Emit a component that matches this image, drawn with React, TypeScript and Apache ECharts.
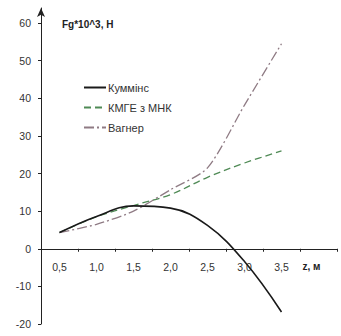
import React, { useEffect, useRef } from "react";
import * as echarts from "echarts";

const categories = ["0,5", "1,0", "1,5", "2,0", "2,5", "3,0", "3,5", "z, м"];
const kummins = [4.3, 8.6, 11.4, 10.8, 6.2, -3.4, -16.8, null];
const kmge = [4.3, 8.5, 11.5, 14.4, 19.0, 22.8, 26.0, null];
const wagner = [4.3, 6.5, 10.0, 15.7, 21.5, 38.2, 54.5, null];
const seriesNames = ["Куммінс", "КМГЕ з МНК", "Вагнер"];
const yTitle = "Fg*10^3, Н";

const Y_MIN = -20;
const Y_MAX = 64;
const GRID_TOP = 8;
const GRID_BOTTOM = 12;
const CH_H = 336;

export default function App() {
  const ref = useRef<HTMLDivElement>(null);
  useEffect(() => {
    const chart = echarts.init(ref.current!, undefined, { renderer: "svg" });
    const font = "Liberation Sans, Arial, sans-serif";
    const plotH = CH_H - GRID_TOP - GRID_BOTTOM;
    const zeroOffset = -(plotH * (0 - Y_MIN)) / (Y_MAX - Y_MIN);
    chart.setOption({
      animation: false,
      backgroundColor: "#ffffff",
      textStyle: { fontFamily: font },
      graphic: [
        {
          type: "text",
          left: 62,
          top: 19,
          style: { text: yTitle, font: `bold 10px ${font}`, fill: "#222" },
        },
      ],
      legend: {
        orient: "vertical",
        left: 78,
        top: 77,
        itemWidth: 22,
        itemHeight: 10,
        itemGap: 9,
        itemStyle: { opacity: 0 },
        textStyle: { fontSize: 11, color: "#333", fontFamily: font, padding: [0, 0, 0, -3] },
        data: seriesNames,
      },
      grid: {
        left: 41,
        right: 4,
        top: GRID_TOP,
        bottom: GRID_BOTTOM,
        containLabel: false,
        outerBoundsMode: "none",
      },
      xAxis: {
        type: "category",
        data: categories,
        boundaryGap: true,
        position: "bottom",
        offset: zeroOffset,
        axisLine: { onZero: false, lineStyle: { color: "#222", width: 1 } },
        axisTick: { show: true, alignWithLabel: false, interval: 0, length: 3, lineStyle: { color: "#222" } },
        axisLabel: {
          interval: 0,
          margin: 13,
          fontSize: 10.5,
          color: "#333",
          fontFamily: font,
          formatter: (v: string) => (v === "z, м" ? `{b|${v}}` : v),
          rich: {
            b: { fontWeight: "bold", fontSize: 10, color: "#222", padding: [0, 14, 0, 0], fontFamily: font },
          },
        },
        splitLine: { show: false },
      },
      yAxis: {
        type: "value",
        min: Y_MIN,
        max: Y_MAX,
        interval: 10,
        axisLine: {
          show: true,
          lineStyle: { color: "#222", width: 1 },
          symbol: ["none", "arrow"],
          symbolSize: [6, 9],
        },
        axisTick: { show: true, length: 3, lineStyle: { color: "#222" } },
        axisLabel: {
          showMaxLabel: false,
          margin: 10,
          fontSize: 10.5,
          color: "#333",
          fontFamily: font,
          formatter: (v: number) => (Math.round(v) % 10 === 0 ? String(v) : ""),
        },
        splitLine: { show: false },
      },
      series: [
        {
          name: seriesNames[0],
          type: "line",
          data: kummins,
          smooth: 0.4,
          symbol: "none",
          itemStyle: { color: "#1a1a1a" },
          lineStyle: { color: "#1a1a1a", width: 1.6 },
          z: 3,
        },
        {
          name: seriesNames[1],
          type: "line",
          data: kmge,
          smooth: 0.35,
          symbol: "none",
          itemStyle: { color: "#4f8a55" },
          lineStyle: { color: "#4f8a55", width: 1.3, type: [7, 4] },
          z: 2,
        },
        {
          name: seriesNames[2],
          type: "line",
          data: wagner,
          smooth: 0.25,
          symbol: "none",
          itemStyle: { color: "#8f7b84" },
          lineStyle: { color: "#8f7b84", width: 1.3, type: [10, 3, 2, 3] },
          z: 2,
        },
      ],
    });
    return () => chart.dispose();
  }, []);
  return (
    <div
      ref={ref}
      style={{ position: "fixed", left: 0, top: 0, width: 341, height: CH_H }}
    />
  );
}
